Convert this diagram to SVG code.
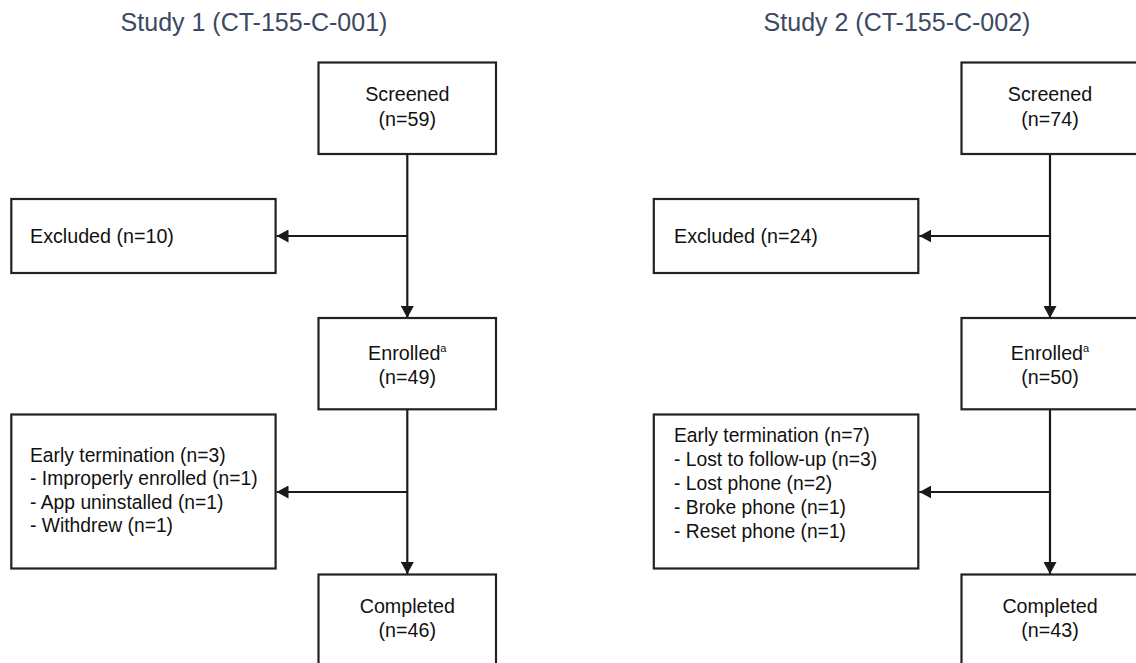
<svg xmlns="http://www.w3.org/2000/svg" width="1136" height="663" viewBox="0 0 1136 663">
<style>
.title{font-family:"Liberation Sans",Arial,sans-serif;font-size:25px;fill:#3b4a62;text-anchor:middle}
.box{fill:#ffffff;stroke:#222222;stroke-width:2.2}
.t{font-family:"Liberation Sans",Arial,sans-serif;font-size:19.7px;fill:#111111}
.l{font-family:"Liberation Sans",Arial,sans-serif;font-size:19.3px;fill:#111111}
.c{text-anchor:middle}
.line{stroke:#1a1a1a;stroke-width:2.2;fill:none}
</style>
<defs>
<marker id="arr" viewBox="0 0 12 13" refX="12" refY="6.5" markerWidth="12" markerHeight="13" markerUnits="userSpaceOnUse" orient="auto">
<path d="M0,0 L12,6.5 L0,13 z" fill="#1a1a1a"/>
</marker>
</defs>
<rect width="1136" height="663" fill="#ffffff"/>
<text class="title" x="254" y="31">Study 1 (CT-155-C-001)</text>
<text class="title" x="897" y="31">Study 2 (CT-155-C-002)</text>
<g id="connectors">
<line class="line" x1="407.3" y1="154" x2="407.3" y2="318" marker-end="url(#arr)"/>
<line class="line" x1="407.3" y1="236" x2="276.5" y2="236" marker-end="url(#arr)"/>
<line class="line" x1="407.3" y1="409.5" x2="407.3" y2="574" marker-end="url(#arr)"/>
<line class="line" x1="407.3" y1="492" x2="276.5" y2="492" marker-end="url(#arr)"/>
<line class="line" x1="1050" y1="154" x2="1050" y2="318" marker-end="url(#arr)"/>
<line class="line" x1="1050" y1="236" x2="919.3" y2="236" marker-end="url(#arr)"/>
<line class="line" x1="1050" y1="409.5" x2="1050" y2="574" marker-end="url(#arr)"/>
<line class="line" x1="1050" y1="492" x2="919.3" y2="492" marker-end="url(#arr)"/>
</g>
<g id="s1-screened">
<rect class="box" x="318.5" y="62.5" width="177.5" height="91.5"/>
<text class="t c" x="407.3" y="101">Screened</text>
<text class="t c" x="407.3" y="126">(n=59)</text>
</g>
<g id="s1-excluded">
<rect class="box" x="11.3" y="199" width="264.3" height="74"/>
<text class="t" x="30" y="243">Excluded (n=10)</text>
</g>
<g id="s1-enrolled">
<rect class="box" x="318.5" y="318" width="177.5" height="91.3"/>
<text class="t c" x="407.3" y="360">Enrolled<tspan font-size="11" dy="-8">a</tspan></text>
<text class="t c" x="407.3" y="384">(n=49)</text>
</g>
<g id="s1-early">
<rect class="box" x="11.3" y="414.5" width="264.3" height="154"/>
<text class="l" x="30" y="461.5">Early termination (n=3)</text>
<text class="l" x="30" y="485">- Improperly enrolled (n=1)</text>
<text class="l" x="30" y="508.5">- App uninstalled (n=1)</text>
<text class="l" x="30" y="532.3">- Withdrew (n=1)</text>
</g>
<g id="s1-completed">
<rect class="box" x="318.5" y="574.5" width="177.5" height="92"/>
<text class="t c" x="407.3" y="613">Completed</text>
<text class="t c" x="407.3" y="637">(n=46)</text>
</g>
<g id="s2-screened">
<rect class="box" x="961.5" y="62.5" width="177.5" height="91.5"/>
<text class="t c" x="1050" y="101">Screened</text>
<text class="t c" x="1050" y="126">(n=74)</text>
</g>
<g id="s2-excluded">
<rect class="box" x="653.8" y="199" width="264.5" height="74"/>
<text class="t" x="674" y="243">Excluded (n=24)</text>
</g>
<g id="s2-enrolled">
<rect class="box" x="961.5" y="318" width="177.5" height="91.3"/>
<text class="t c" x="1050" y="360">Enrolled<tspan font-size="11" dy="-8">a</tspan></text>
<text class="t c" x="1050" y="384">(n=50)</text>
</g>
<g id="s2-early">
<rect class="box" x="653.8" y="414.5" width="264.5" height="154"/>
<text class="l" x="674" y="442">Early termination (n=7)</text>
<text class="l" x="674" y="466">- Lost to follow-up (n=3)</text>
<text class="l" x="674" y="490">- Lost phone (n=2)</text>
<text class="l" x="674" y="514">- Broke phone (n=1)</text>
<text class="l" x="674" y="538">- Reset phone (n=1)</text>
</g>
<g id="s2-completed">
<rect class="box" x="961.5" y="574.5" width="177.5" height="92"/>
<text class="t c" x="1050" y="613">Completed</text>
<text class="t c" x="1050" y="637">(n=43)</text>
</g>
</svg>
